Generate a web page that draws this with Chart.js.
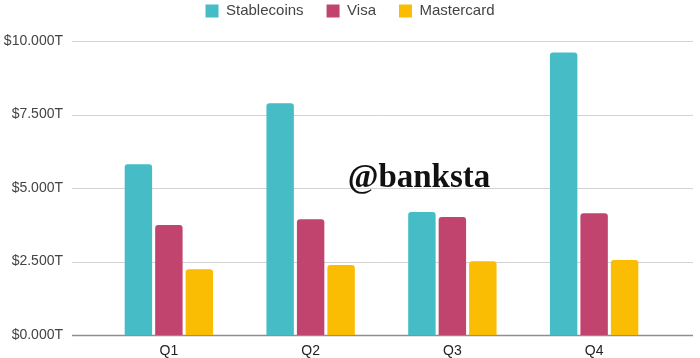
<!DOCTYPE html>
<html>
<head>
<meta charset="utf-8">
<script src="https://cdn.jsdelivr.net/npm/chart.js@4.4.1/dist/chart.umd.min.js"></script>
<style>
  html, body { margin: 0; padding: 0; background: #fff; }
  canvas { display: block; }
</style>
</head>
<body>
<canvas id="chart" width="700" height="358"></canvas>
<script>
// Данные графика
const quarters = ['Q1', 'Q2', 'Q3', 'Q4'];
const stablecoins = [5.81, 7.88, 4.18, 9.61];
const visa = [3.74, 3.94, 4.01, 4.14];
const mastercard = [2.24, 2.38, 2.51, 2.55];
const yTicks = [0, 2.5, 5, 7.5, 10];

const font = '"Liberation Sans", Arial, sans-serif';

// Отступ под легендой
const legendGap = {
    id: 'legendGap',
    beforeInit(chart) {
        const fit = chart.legend.fit;
        chart.legend.fit = function() {
            fit.call(this);
            this.height += 12.5;
        };
    }
};

// Горизонтальная сетка шире области графика (как в Google Sheets)
const wideGrid = {
    id: 'wideGrid',
    beforeDatasetsDraw(chart) {
        const ctx = chart.ctx;
        const y = chart.scales.y;
        ctx.save();
        yTicks.forEach(v => {
            const py = Math.round(y.getPixelForValue(v)) + 0.5;
            ctx.beginPath();
            ctx.strokeStyle = v === 0 ? '#8f8f8f' : '#d3d3d3';
            ctx.lineWidth = v === 0 ? 1.5 : 1;
            ctx.moveTo(72, py);
            ctx.lineTo(693, py);
            ctx.stroke();
        });
        ctx.restore();
    }
};

// Водяной знак
const watermark = {
    id: 'watermark',
    afterDraw(chart) {
        const ctx = chart.ctx;
        ctx.save();
        ctx.font = 'bold 33px "Liberation Serif", "DejaVu Serif", serif';
        ctx.fillStyle = '#111';
        ctx.textAlign = 'center';
        ctx.textBaseline = 'alphabetic';
        ctx.fillText('@banksta', 419, 187);
        ctx.restore();
    }
};

new Chart(document.getElementById('chart'), {
    type: 'bar',
    data: {
        labels: quarters,
        datasets: [
            { label: 'Stablecoins', data: stablecoins, backgroundColor: '#46bdc6' },
            { label: 'Visa', data: visa, backgroundColor: '#c1446e' },
            { label: 'Mastercard', data: mastercard, backgroundColor: '#fbbc04' }
        ]
    },
    options: {
        responsive: false,
        animation: false,
        categoryPercentage: 0.645,
        barPercentage: 0.9,
        datasets: {
            bar: {
                borderRadius: { topLeft: 3, topRight: 3 },
                borderSkipped: 'bottom'
            }
        },
        layout: {
            padding: { left: 2, right: 2, top: -19.5, bottom: 0 }
        },
        plugins: {
            legend: {
                position: 'top',
                labels: {
                    boxWidth: 13,
                    boxHeight: 13,
                    padding: 23,
                    color: '#444',
                    font: { family: font, size: 15 }
                }
            },
            tooltip: { enabled: false }
        },
        scales: {
            x: {
                grid: { display: false },
                border: { display: false },
                afterFit(scale) { scale.height = 23; },
                ticks: {
                    color: '#222',
                    padding: 0,
                    font: { family: font, size: 14 }
                }
            },
            y: {
                min: 0,
                max: 10,
                afterBuildTicks(scale) {
                    scale.ticks = yTicks.map(v => ({ value: v }));
                },
                afterFit(scale) { scale.width = 96; },
                grid: { display: false, tickLength: 35 },
                border: { display: false },
                ticks: {
                    color: '#444',
                    padding: 0,
                    font: { family: font, size: 14 },
                    callback: v => '$' + v.toFixed(3) + 'T'
                }
            },
            // пустая правая ось — только отступ справа
            yRight: {
                position: 'right',
                afterFit(scale) { scale.width = 33; },
                grid: { display: false },
                border: { display: false },
                ticks: { display: false }
            }
        }
    },
    plugins: [legendGap, wideGrid, watermark]
});
</script>
</body>
</html>
